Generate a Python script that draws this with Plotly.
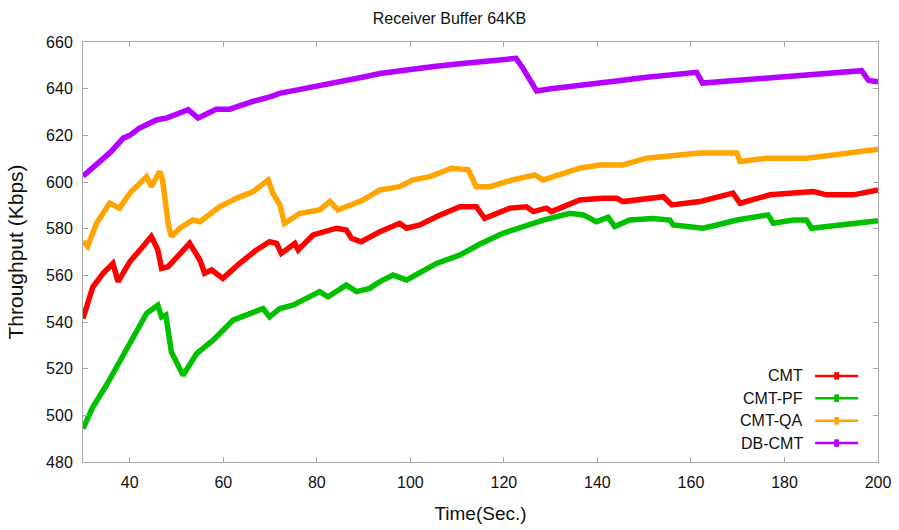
import plotly.graph_objects as go

# ---------------- data ----------------
cmt_t = [30, 32.1, 34.3, 36.4, 37.5, 40, 42.5, 44.6, 46, 46.8, 48.2, 50.7, 52.8, 55, 56, 57.5,
         59.9, 63.5, 67.1, 69.9, 71.4, 72.4, 75.3, 76, 79.2, 84.2, 86.3, 87.4, 89.5, 93.5,
         97.7, 99.2, 102, 106, 110.6, 114.1, 115.9, 121.3, 124.8, 126.3, 129.1, 130.2, 136.2,
         141.2, 144.1, 145.5, 150, 154.1, 155.9, 161.9, 165, 169, 170.5, 176.9, 182, 186.2,
         189, 194.7, 200]
cmt_v = [541.5, 555, 560.9, 565.1, 557.3, 565.8, 571.6, 576.6, 570.9, 563, 563.7, 569.4, 573.7,
         566.6, 560.9, 562.3, 558.7, 565.1, 570.9, 574.4, 573.7, 569.4, 573.7, 570.9, 577.3,
         580.2, 579.4, 575.9, 574.4, 578.7, 582.3, 580.2, 581.6, 585.5, 589.4, 589.4, 584.4,
         588.8, 589.4, 587.3, 588.8, 587.3, 592.3, 593, 593, 591.6, 592.6, 593.7, 590.2, 591.6,
         593.2, 595.2, 590.9, 594.5, 595.3, 595.9, 594.5, 594.5, 596.6]

pf_t = [30, 32.1, 35, 37.8, 40, 43.6, 46, 46.8, 47.7, 48.9, 51.4, 54.3, 57.8, 62.1, 67.1, 68.5,
        69.9, 72.1, 74.9, 80.6, 82.4, 86.3, 88.5, 91.3, 93.5, 96.3, 99.2, 105.6, 110.6, 115,
        119.8, 124, 128.4, 134.1, 137, 139.8, 142.3, 143.7, 146.9, 151.9, 155.5, 156.2, 162.6,
        166, 169.8, 176.5, 177.6, 181.9, 184.7, 185.8, 191.2, 196, 200]
pf_v = [494.3, 503.6, 512.9, 523.6, 530.8, 543.7, 547.2, 542.2, 543, 527.2, 517.2, 526.5, 532.2,
        540.8, 545.1, 545.8, 542.2, 545.8, 547.2, 553, 550.8, 555.8, 553, 554.4, 557.3, 560.1,
        558, 565.1, 568.7, 573.5, 578, 581, 583.7, 586.6, 585.9, 583, 584.9, 580.9, 583.7,
        584.4, 583.7, 581.6, 580.2, 581.8, 583.7, 585.9, 582.3, 583.7, 583.7, 580.2, 581.6,
        582.4, 583.4]

qa_t = [30, 31, 32.9, 35.7, 37.8, 40, 43.6, 44.6, 46.4, 47, 48.2, 48.9, 50.7, 53.5, 55, 59.2,
        62.8, 66.4, 69.6, 70.6, 72.1, 73.1, 76.4, 80.6, 82.8, 84.5, 89.9, 93.5, 97.7, 100.6,
        104.2, 108.8, 112.4, 114.1, 117, 121.9, 126.6, 128.4, 136.2, 140.5, 143.4, 145.4,
        150.5, 154.8, 161.9, 169.8, 170.5, 176.2, 184.7, 190.4, 195, 200]
qa_v = [574.5, 572.5, 582.3, 591, 588.8, 595.2, 602.3, 598, 604.5, 601, 582.3, 576.6, 580.2,
        583.7, 583, 589.4, 593, 595.9, 600.9, 595.2, 590.2, 582.3, 586.6, 588, 591.6, 588,
        592.3, 596.6, 598, 600.9, 602.3, 605.9, 605.2, 598, 598, 600.9, 603, 600.9, 605.9,
        607.3, 607.3, 607.3, 610.2, 610.9, 612.4, 612.4, 608.8, 610.2, 610.2, 611.6, 612.6, 614]

db_t = [30, 32, 34, 36, 38.6, 40, 42, 44, 45.7, 48, 50, 52.5, 54.6, 56, 58.5, 61.4, 64, 66.3,
        70, 72, 76.4, 80, 85, 90, 93.5, 97, 100, 105, 110, 114.9, 119, 122.6, 124, 126, 127,
        130, 135, 140.5, 145, 150, 155, 158, 161.2, 162.5, 165, 170, 176.2, 180, 185, 190,
        194, 196.5, 198, 200]
db_v = [602.5, 606, 609.5, 613, 618.8, 620, 623, 625, 626.6, 627.5, 629, 631, 627.4, 629, 631.2,
        631.2, 633, 634.5, 636.5, 638, 639.7, 641, 643, 645, 646.5, 647.5, 648, 649.5, 650.6,
        651.7, 652.3, 653, 649, 643, 639, 640, 641, 642.4, 643.5, 644.8, 646, 646.5, 647,
        642.4, 642.8, 643.5, 644.5, 645.2, 646, 646.8, 647.3, 647.7, 643.5, 643]

series_names = ["CMT", "CMT-PF", "CMT-QA", "DB-CMT"]
series_colors = ["#ff0000", "#00c000", "#ffa500", "#b400ff"]
series_t = [cmt_t, pf_t, qa_t, db_t]
series_v = [cmt_v, pf_v, qa_v, db_v]

x_ticks = [40, 60, 80, 100, 120, 140, 160, 180, 200]
y_ticks = [480, 500, 520, 540, 560, 580, 600, 620, 640, 660]

# ---------------- figure ----------------
fig = go.Figure()
for name, col, t, v in zip(series_names, series_colors, series_t, series_v):
    fig.add_trace(go.Scatter(x=t, y=v, mode="lines", name=name,
                             line=dict(color=col, width=5.5), showlegend=False))

font_family = "Liberation Sans, Arial, sans-serif"
frame = "#a8a8a8"

fig.update_layout(
    width=899, height=530,
    margin=dict(l=83, r=21, t=42, b=68),
    paper_bgcolor="white", plot_bgcolor="white",
    font=dict(family=font_family, size=16, color="#111111"),
    title=dict(text="Receiver Buffer 64KB", x=0.5, xanchor="center", y=0.966,
               yanchor="middle", font=dict(size=16, color="#111111")),
    xaxis=dict(range=[30, 200], tickvals=x_ticks, showgrid=False, zeroline=False,
               showline=True, linecolor=frame, linewidth=1, mirror="ticks",
               ticks="inside", ticklen=5, tickcolor=frame, automargin=False,
               tickfont=dict(size=16), ticklabelstandoff=6,
               title=dict(text="Time(Sec.)", font=dict(size=19), standoff=16)),
    yaxis=dict(range=[480, 660], tickvals=y_ticks, showgrid=False, zeroline=False,
               showline=True, linecolor=frame, linewidth=1, mirror="ticks",
               ticks="inside", ticklen=5, tickcolor=frame, automargin=False,
               tickfont=dict(size=16), ticklabelstandoff=6,
               title=dict(text="Throughput (Kbps)", font=dict(size=21), standoff=16)),
)

# manual gnuplot-style key (text, then sample line with marker)
key_y = [0.205, 0.152, 0.098, 0.045]
for name, col, ky in zip(series_names, series_colors, key_y):
    fig.add_annotation(x=0.908, y=ky, xref="paper", yref="paper", text=name,
                       showarrow=False, xanchor="right", yanchor="middle",
                       font=dict(size=16, color="#111111"))
    fig.add_shape(type="line", xref="paper", yref="paper", x0=0.921, x1=0.975,
                  y0=ky, y1=ky, line=dict(color=col, width=2.5))
    fig.add_shape(type="rect", xref="paper", yref="paper", x0=0.945, x1=0.951,
                  y0=ky - 0.009, y1=ky + 0.009, fillcolor=col, line=dict(width=0))

fig.write_html("out.html")
